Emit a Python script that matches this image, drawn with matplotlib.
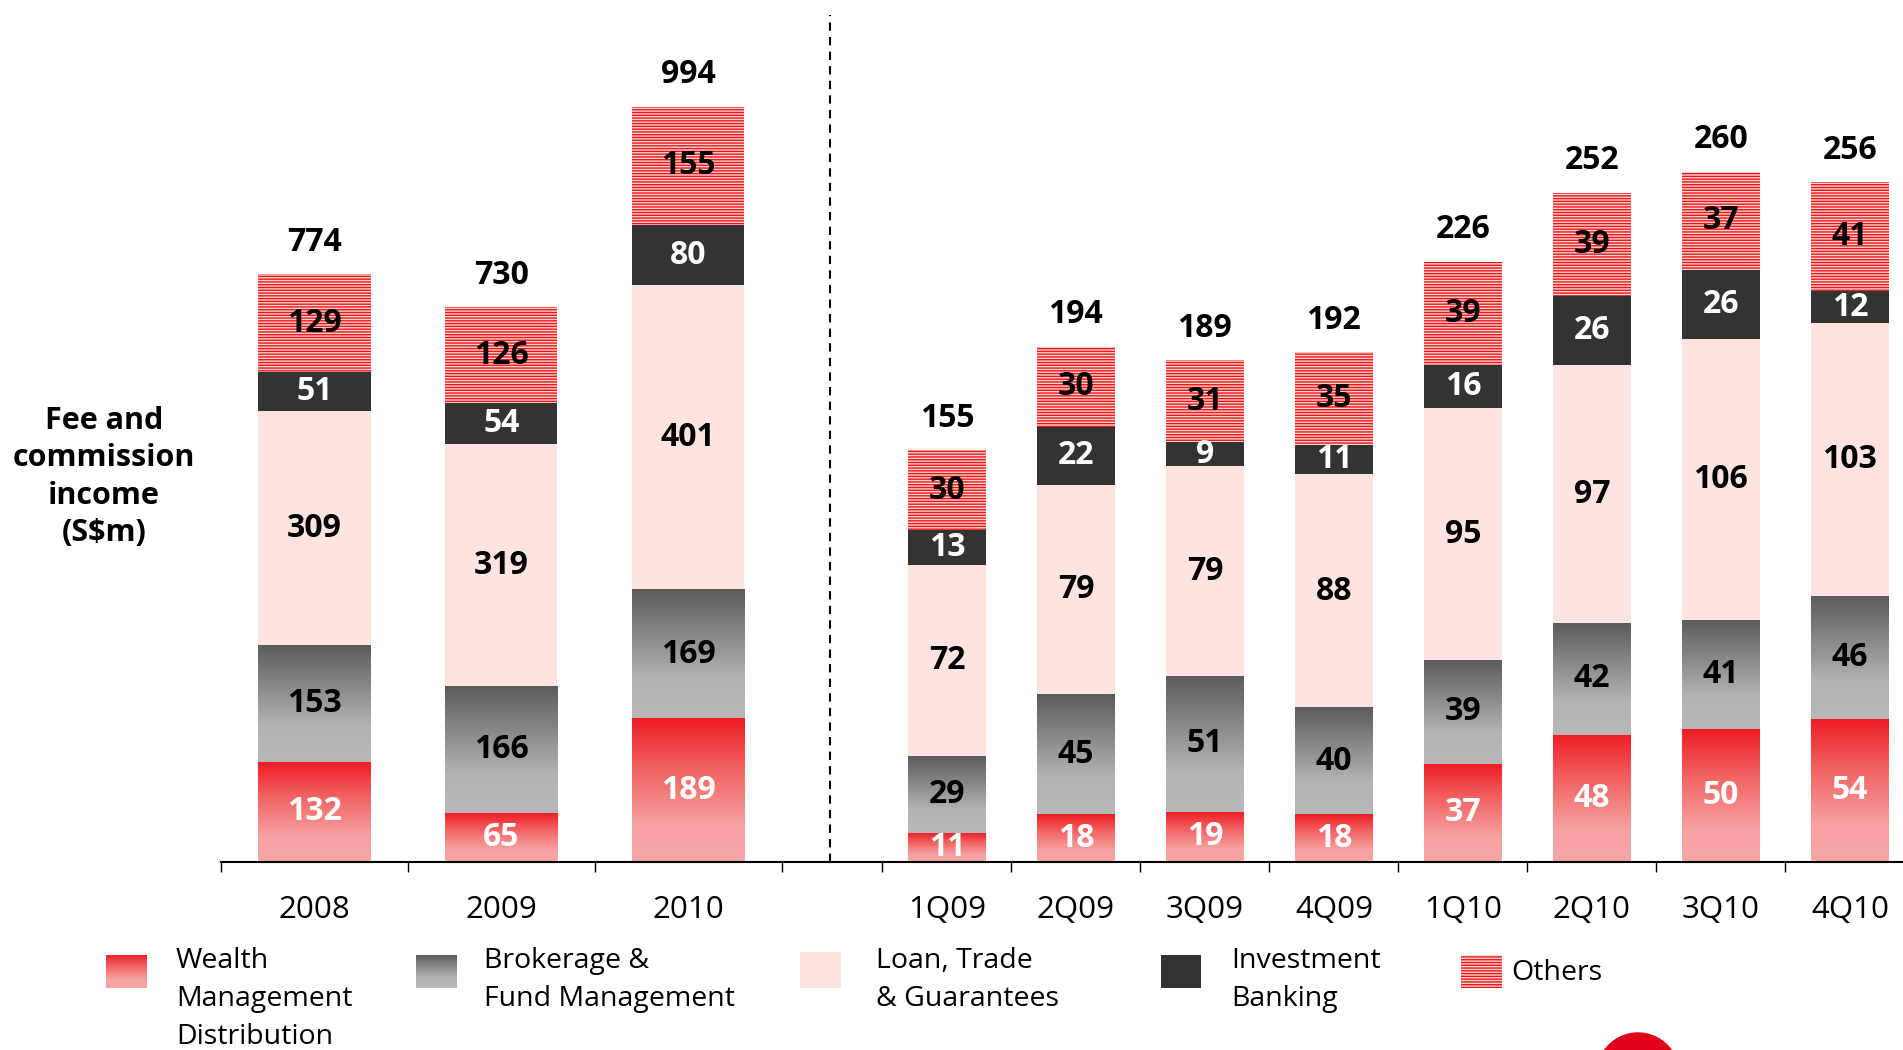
import numpy as np
import matplotlib.pyplot as plt
from matplotlib.colors import to_rgb
from matplotlib.patches import Rectangle, Circle

plt.rcParams['font.family'] = ['Open Sans', 'DejaVu Sans']
plt.rcParams['hatch.color'] = '#EE1111'
plt.rcParams['hatch.linewidth'] = 1.0

years = ["2008", "2009", "2010"]
quarters = ["1Q09", "2Q09", "3Q09", "4Q09", "1Q10", "2Q10", "3Q10", "4Q10"]

# annual, S$m
wealth_y = [132, 65, 189]
broker_y = [153, 166, 169]
loan_y = [309, 319, 401]
ib_y = [51, 54, 80]
others_y = [129, 126, 155]

# quarterly, S$m
wealth_q = [11, 18, 19, 18, 37, 48, 50, 54]
broker_q = [29, 45, 51, 40, 39, 42, 41, 46]
loan_q = [72, 79, 79, 88, 95, 97, 106, 103]
ib_q = [13, 22, 9, 11, 16, 26, 26, 12]
others_q = [30, 30, 31, 35, 39, 39, 37, 41]

legend_labels = ["Wealth\nManagement\nDistribution", "Brokerage &\nFund Management",
                 "Loan, Trade\n& Guarantees", "Investment\nBanking", "Others"]


def gradient(stops, n=256):
    pos = [s[0] for s in stops]
    cols = np.array([to_rgb(s[1]) for s in stops])
    t = np.linspace(0, 1, n)
    arr = np.stack([np.interp(t, pos, cols[:, i]) for i in range(3)], axis=1)
    return arr[:, None, :]


WEALTH_GRAD = gradient([(0, '#ED1C24'), (0.35, '#F26262'), (0.75, '#F7A2A2'), (1, '#F8A6A6')])
BROKER_GRAD = gradient([(0, '#5C5C5C'), (0.7, '#B4B4B4'), (1, '#B8B8B8')])

# style, gradient, label colour for each segment (bottom to top)
seg_styles = [
    (dict(color='#F4898B'), WEALTH_GRAD, 'white'),
    (dict(color='#8A8A8A'), BROKER_GRAD, 'black'),
    (dict(color='#FDE4E0'), None, 'black'),
    (dict(color='#333333'), None, 'white'),
    (dict(facecolor='#FCD2D2', edgecolor='#F01515', hatch='------'), None, 'black'),
]


def draw_panel(ax, cats, segs, top):
    x = np.arange(len(cats))
    bottom = np.zeros(len(cats))
    for vals, (style, grad, tcol) in zip(segs, seg_styles):
        bars = ax.bar(x, vals, 0.6, bottom=bottom, linewidth=0, **style)
        for b, v, b0 in zip(bars, vals, bottom):
            if grad is not None:
                x0, y0 = b.get_x(), b.get_y()
                ax.imshow(grad, extent=(x0, x0 + b.get_width(), y0, y0 + b.get_height()),
                          aspect='auto', origin='upper', clip_path=b, zorder=1.5,
                          interpolation='bilinear')
            ax.text(b.get_x() + b.get_width() / 2, b0 + v / 2, str(v), ha='center', va='center',
                    fontsize=23, fontweight='bold', color=tcol, zorder=3)
        bottom = bottom + np.array(vals)
    for xi, tot in zip(x, bottom):
        ax.annotate(str(int(tot)), (xi, tot), xytext=(0, 23), textcoords='offset points',
                    ha='center', va='center', fontsize=23, fontweight='bold')
    ax.set_ylim(0, top)
    ax.set_facecolor('none')
    for s in ['top', 'left', 'right']:
        ax.spines[s].set_visible(False)
    ax.spines['bottom'].set_linewidth(1.5)
    ax.set_yticks([])
    ax.set_xticks(x)
    ax.set_xticklabels(cats, fontsize=22.5)
    ax.tick_params(axis='x', which='major', length=0, pad=24)
    ax.tick_params(axis='x', which='minor', length=7, width=1.0, direction='out')


fig = plt.figure(figsize=(19.03, 10.5), dpi=100)
W, H = 1903, 1050

ax1 = fig.add_axes([221 / W, 1 - 862 / H, (882.4 - 221) / W, 847 / H])
ax2 = fig.add_axes([882.4 / W, 1 - 862 / H, 1032 / W, 847 / H])

draw_panel(ax1, years, [wealth_y, broker_y, loan_y, ib_y, others_y], 1115)
ax1.set_xlim(-0.5, 3.039)
ax1.set_xticks([-0.5, 0.5, 1.5, 2.5], minor=True)
ax1.axvline(2.76, color='black', lw=1.5, linestyle=(0, (4, 3)))

draw_panel(ax2, quarters, [wealth_q, broker_q, loan_q, ib_q, others_q], 319)
ax2.set_xlim(-0.5, 7.5)
ax2.set_xticks(np.arange(-0.5, 7, 1.0), minor=True)

fig.text(104 / W, 1 - 477 / H, "Fee and\ncommission\nincome\n(S$m)", ha='center', va='center',
         fontsize=22, fontweight='bold', linespacing=1.32)

# legend
sw_boxes = [(106, 955, 41, 33), (416, 955, 41, 33), (800, 952, 41, 36),
            (1161, 955, 40, 33), (1461, 955, 41, 33)]
txt_pos = [(176, 999), (484, 980), (876, 980), (1231, 980), (1511, 973)]
for i, (bx, by, bw, bh) in enumerate(sw_boxes):
    sax = fig.add_axes([bx / W, 1 - (by + bh) / H, bw / W, bh / H])
    sax.set_axis_off()
    style, grad, _ = seg_styles[i]
    if grad is not None:
        sax.imshow(grad, extent=(0, 1, 0, 1), aspect='auto', interpolation='bilinear')
    else:
        sax.add_patch(Rectangle((0, 0), 1, 1, linewidth=0, **style))
    sax.set_xlim(0, 1)
    sax.set_ylim(0, 1)
    tx, ty = txt_pos[i]
    fig.text(tx / W, 1 - ty / H, legend_labels[i], ha='left', va='center', fontsize=20.5,
             linespacing=1.46)

# logo piece at bottom edge
fig.patches.append(Circle((16.38, -0.24), 0.41, transform=fig.dpi_scale_trans,
                          color='#E2001A', zorder=5))

fig.savefig('out.png', dpi=100)
